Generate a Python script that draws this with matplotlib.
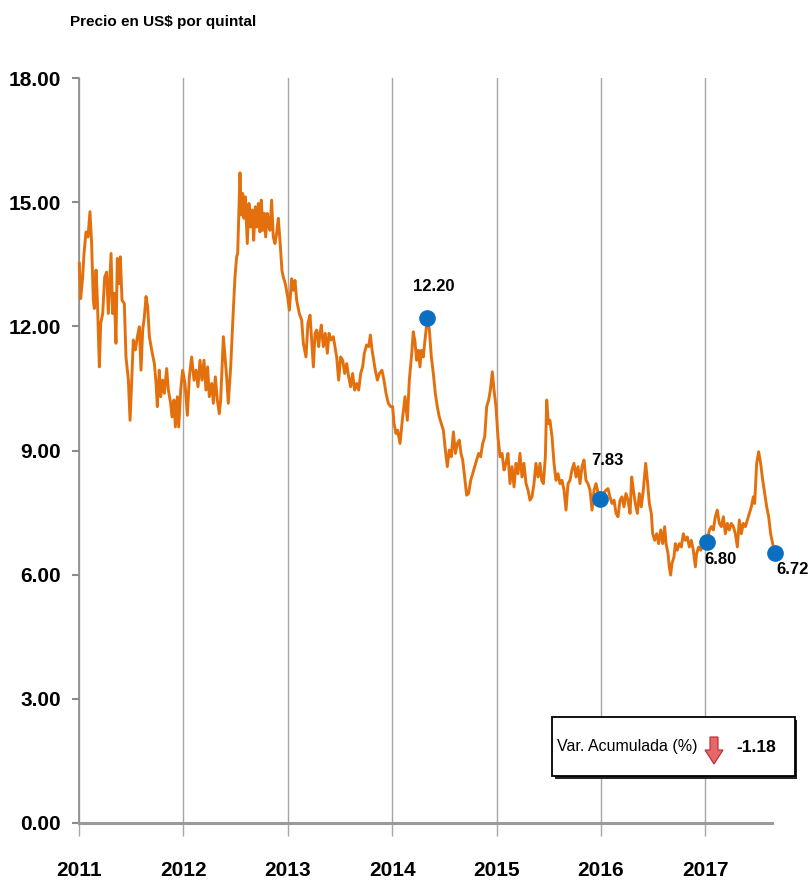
import matplotlib
matplotlib.use("Agg")
import matplotlib.pyplot as plt
from matplotlib.patches import Rectangle, Polygon

# ---------------- data (years since 2011, US$ per quintal) ----------------
t_offset = [
    0.003, 0.016, 0.035, 0.048, 0.067, 0.086, 0.105, 0.121, 0.137, 0.147,
    0.163, 0.176, 0.195, 0.208, 0.227, 0.246, 0.265, 0.281, 0.307, 0.322,
    0.338, 0.354, 0.367, 0.386, 0.396, 0.412, 0.434, 0.450, 0.473, 0.489,
    0.504, 0.520, 0.540, 0.559, 0.578, 0.594, 0.610, 0.626, 0.642, 0.658,
    0.674, 0.696, 0.722, 0.738, 0.750, 0.769, 0.782, 0.801, 0.817, 0.840,
    0.856, 0.878, 0.891, 0.910, 0.923, 0.942, 0.955, 0.974, 0.993, 1.015,
    1.038, 1.057, 1.079, 1.102, 1.121, 1.140, 1.159, 1.178, 1.197, 1.216,
    1.232, 1.248, 1.271, 1.287, 1.306, 1.325, 1.344, 1.357, 1.383, 1.414,
    1.430, 1.453, 1.472, 1.494, 1.510, 1.520, 1.542, 1.555, 1.568, 1.580,
    1.593, 1.612, 1.628, 1.644, 1.660, 1.673, 1.689, 1.702, 1.718, 1.734,
    1.746, 1.762, 1.775, 1.788, 1.804, 1.820, 1.829, 1.845, 1.861, 1.877,
    1.893, 1.909, 1.925, 1.944, 1.957, 1.976, 1.999, 2.015, 2.037, 2.053,
    2.069, 2.085, 2.110, 2.133, 2.149, 2.174, 2.193, 2.213, 2.232, 2.245,
    2.261, 2.277, 2.296, 2.308, 2.321, 2.340, 2.359, 2.379, 2.395, 2.414,
    2.436, 2.452, 2.468, 2.487, 2.506, 2.526, 2.545, 2.564, 2.583, 2.602,
    2.621, 2.640, 2.660, 2.679, 2.698, 2.717, 2.733, 2.755, 2.775, 2.791,
    2.807, 2.823, 2.838, 2.858, 2.877, 2.902, 2.921, 2.941, 2.963, 2.985,
    3.004, 3.017, 3.036, 3.052, 3.075, 3.100, 3.123, 3.145, 3.164, 3.187,
    3.202, 3.218, 3.234, 3.250, 3.266, 3.279, 3.298, 3.314, 3.337, 3.356,
    3.375, 3.394, 3.413, 3.432, 3.451, 3.471, 3.490, 3.509, 3.528, 3.547,
    3.566, 3.586, 3.605, 3.624, 3.643, 3.659, 3.675, 3.694, 3.713, 3.732,
    3.752, 3.771, 3.790, 3.809, 3.828, 3.847, 3.867, 3.886, 3.905, 3.924,
    3.940, 3.959, 3.975, 3.994, 4.013, 4.033, 4.052, 4.071, 4.090, 4.109,
    4.128, 4.148, 4.167, 4.186, 4.205, 4.224, 4.243, 4.262, 4.282, 4.301,
    4.320, 4.339, 4.358, 4.377, 4.397, 4.416, 4.432, 4.448, 4.467, 4.480,
    4.496, 4.511, 4.531, 4.550, 4.569, 4.588, 4.607, 4.626, 4.646, 4.665,
    4.684, 4.703, 4.722, 4.741, 4.761, 4.780, 4.799, 4.818, 4.837, 4.856,
    4.875, 4.895, 4.914, 4.933, 4.952, 4.974, 4.990, 5.022, 5.048, 5.067,
    5.086, 5.105, 5.125, 5.144, 5.163, 5.182, 5.201, 5.220, 5.239, 5.259,
    5.278, 5.294, 5.310, 5.329, 5.348, 5.367, 5.386, 5.405, 5.428, 5.444,
    5.463, 5.482, 5.495, 5.514, 5.533, 5.552, 5.572, 5.591, 5.610, 5.623,
    5.642, 5.654, 5.667, 5.680, 5.699, 5.712, 5.731, 5.750, 5.769, 5.789,
    5.808, 5.827, 5.846, 5.865, 5.884, 5.904, 5.916, 5.936, 5.955, 5.974,
    5.996, 6.018, 6.038, 6.057, 6.076, 6.095, 6.114, 6.133, 6.153, 6.172,
    6.191, 6.210, 6.229, 6.248, 6.268, 6.287, 6.306, 6.325, 6.344, 6.363,
    6.383, 6.402, 6.421, 6.440, 6.459, 6.472, 6.491, 6.510, 6.529, 6.549,
    6.568, 6.587, 6.606, 6.625, 6.644, 6.667,
]
price = [
    13.52, 12.67, 13.19, 13.76, 14.28, 14.16, 14.77, 14.00, 12.63, 12.43,
    13.36, 12.63, 11.02, 12.07, 12.31, 13.19, 13.31, 12.31, 13.76, 12.31,
    12.80, 11.59, 13.64, 13.03, 13.68, 12.63, 12.55, 11.26, 10.70, 9.73,
    10.62, 11.67, 11.43, 11.75, 11.99, 10.94, 11.91, 12.23, 12.72, 12.47,
    11.75, 11.43, 11.10, 10.62, 10.06, 10.94, 10.30, 10.70, 10.38, 10.98,
    10.46, 10.14, 9.81, 10.22, 9.57, 10.30, 9.57, 10.46, 10.94, 10.62,
    9.85, 10.78, 11.26, 10.70, 10.94, 10.54, 11.18, 10.70, 11.18, 10.46,
    11.02, 10.30, 10.62, 10.14, 10.78, 10.22, 9.89, 10.22, 11.75, 10.78,
    10.14, 11.02, 12.07, 13.19, 13.68, 13.76, 15.71, 14.69, 15.21, 14.61,
    15.13, 14.00, 14.97, 14.40, 14.81, 14.08, 14.89, 14.40, 14.97, 14.28,
    15.05, 14.32, 14.73, 14.16, 14.73, 14.40, 14.32, 15.05, 14.16, 14.00,
    14.24, 14.61, 14.08, 13.35, 13.19, 13.03, 12.71, 12.39, 13.15, 12.87,
    13.11, 12.63, 12.31, 12.15, 11.59, 11.26, 12.07, 12.27, 11.51, 11.02,
    11.83, 11.91, 11.51, 11.83, 12.03, 11.51, 11.83, 11.35, 11.83, 11.67,
    11.75, 11.51, 11.26, 10.70, 11.26, 11.18, 10.86, 11.10, 10.78, 10.54,
    10.86, 10.46, 10.62, 10.46, 10.86, 11.02, 11.35, 11.55, 11.51, 11.79,
    11.43, 11.18, 10.94, 10.70, 10.86, 10.94, 10.70, 10.38, 10.14, 10.06,
    10.06, 9.66, 9.41, 9.49, 9.17, 9.81, 10.30, 9.73, 10.70, 11.34,
    11.87, 11.63, 11.18, 11.42, 11.02, 11.42, 11.26, 11.67, 12.20, 11.91,
    11.26, 10.86, 10.38, 10.06, 9.81, 9.65, 9.49, 9.01, 8.61, 9.01,
    8.85, 9.45, 8.93, 9.17, 9.25, 8.93, 8.77, 8.36, 7.92, 7.96,
    8.28, 8.44, 8.61, 8.77, 8.93, 8.85, 9.17, 9.33, 10.06, 10.22,
    10.46, 10.90, 10.46, 10.06, 9.33, 8.85, 8.93, 8.53, 8.69, 8.93,
    8.20, 8.61, 8.12, 8.69, 8.44, 8.93, 8.36, 8.69, 8.20, 8.04,
    7.80, 7.88, 8.20, 8.69, 8.36, 8.69, 8.28, 8.20, 8.85, 10.22,
    9.65, 9.73, 9.33, 8.69, 8.28, 8.44, 8.20, 8.28, 8.04, 7.56,
    8.20, 8.28, 8.53, 8.69, 8.36, 8.61, 8.20, 8.61, 8.77, 8.28,
    8.20, 8.04, 7.56, 8.04, 8.20, 7.96, 7.83, 7.96, 8.04, 8.08,
    7.88, 7.72, 7.80, 7.48, 7.40, 7.80, 7.88, 7.64, 7.96, 7.80,
    7.48, 8.36, 8.04, 7.72, 7.48, 7.96, 7.64, 8.04, 8.69, 8.28,
    7.72, 7.48, 6.99, 6.83, 6.99, 6.75, 7.08, 6.75, 7.16, 6.75,
    6.51, 6.19, 5.99, 6.27, 6.43, 6.75, 6.59, 6.75, 6.67, 6.99,
    6.83, 6.91, 6.67, 6.83, 6.59, 6.19, 6.51, 6.67, 6.59, 6.75,
    6.79, 6.80, 7.08, 7.16, 7.08, 7.40, 7.56, 7.24, 7.16, 7.40,
    6.99, 7.24, 7.08, 7.24, 7.16, 6.99, 6.67, 7.32, 6.99, 7.24,
    7.16, 7.32, 7.48, 7.64, 7.88, 7.72, 8.69, 8.97, 8.69, 8.28,
    7.96, 7.64, 7.40, 6.99, 6.75, 6.52,
]

# highlighted points and their labels
mark_offset = [3.337, 4.990, 6.018, 6.667]
mark_value = [12.20, 7.83, 6.80, 6.52]
mark_label = ["12.20", "7.83", "6.80", "6.72"]
mark_shift = [(6, 32), (7, 38), (13, -18), (18, -16)]  # label offset, pixels

years = [2011, 2012, 2013, 2014, 2015, 2016, 2017]
y_ticks = [0, 3, 6, 9, 12, 15, 18]
var_acum = "-1.18"

FONT = "Liberation Sans"
ORANGE = "#E4700D"
BLUE = "#0B6FC1"
GRID = "#A6A6A6"

W, H = 810, 883
fig = plt.figure(figsize=(W / 100, H / 100), dpi=100)
ax = fig.add_axes([79 / W, 1 - 823 / H, (772 - 79) / W, (823 - 78) / H])

x = [2011 + v for v in t_offset]
ax.plot(x, price, color=ORANGE, linewidth=2.1, clip_on=False, zorder=3)

mx = [2011 + v for v in mark_offset]
ax.plot(mx, mark_value, "o", color=BLUE, markersize=11, clip_on=False, zorder=4)
for xi, yi, lab, (dx, dy) in zip(mx, mark_value, mark_label, mark_shift):
    ax.annotate(lab, (xi, yi), xytext=(dx, dy), textcoords="offset pixels",
                ha="center", va="center", fontsize=12, fontweight="bold",
                family=FONT, color="black", annotation_clip=False)

ax.set_xlim(2011, 2011 + (772 - 79) / 104.4)
ax.set_ylim(0, 18)

ax.set_xticks(years)
ax.set_xticklabels([str(y) for y in years], fontsize=15, fontweight="bold", family=FONT)
ax.set_yticks(y_ticks)
ax.set_yticklabels([f"{v:.2f}" for v in y_ticks], fontsize=15, fontweight="bold", family=FONT)

ax.grid(axis="x", color=GRID, linewidth=1.0)
ax.set_axisbelow(True)
for s in ["top", "right"]:
    ax.spines[s].set_visible(False)
ax.spines["left"].set_color("#8C8C8C")
ax.spines["left"].set_linewidth(1.2)
ax.spines["bottom"].set_color("#9A9A9A")
ax.spines["bottom"].set_linewidth(2.2)
ax.tick_params(axis="x", length=9, width=1.0, color=GRID, pad=18)
ax.tick_params(axis="y", length=5, width=1.5, color="#8C8C8C", pad=8)

fig.text(70 / W, 1 - 22 / H, "Precio en US$ por quintal", ha="left", va="center",
         fontsize=11, fontweight="bold", family=FONT)


# ---------------- summary box ----------------
def fx(px):
    return px / W


def fy(py):
    return 1 - py / H


fig.patches.append(Rectangle((fx(555), fy(779)), fx(797) - fx(555), fy(720) - fy(779),
                             transform=fig.transFigure, facecolor="#222222",
                             edgecolor="none", zorder=5))
fig.patches.append(Rectangle((fx(552), fy(776)), fx(795) - fx(552), fy(717) - fy(776),
                             transform=fig.transFigure, facecolor="white",
                             edgecolor="black", linewidth=1.3, zorder=6))
fig.text(fx(557), fy(747), "Var. Acumulada (%)", ha="left", va="center",
         fontsize=11.5, family=FONT, zorder=7)
arrow_px = [(710, 737), (718, 737), (718, 750), (723, 750), (714, 764),
            (705, 750), (710, 750)]
fig.patches.append(Polygon([(fx(a), fy(b)) for a, b in arrow_px], closed=True,
                           transform=fig.transFigure, facecolor="#E8676A",
                           edgecolor="#B3292E", linewidth=0.8, zorder=7))
fig.text(fx(736), fy(747), var_acum, ha="left", va="center",
         fontsize=12.5, fontweight="bold", family=FONT, zorder=7)

fig.savefig("out.png", dpi=100)
